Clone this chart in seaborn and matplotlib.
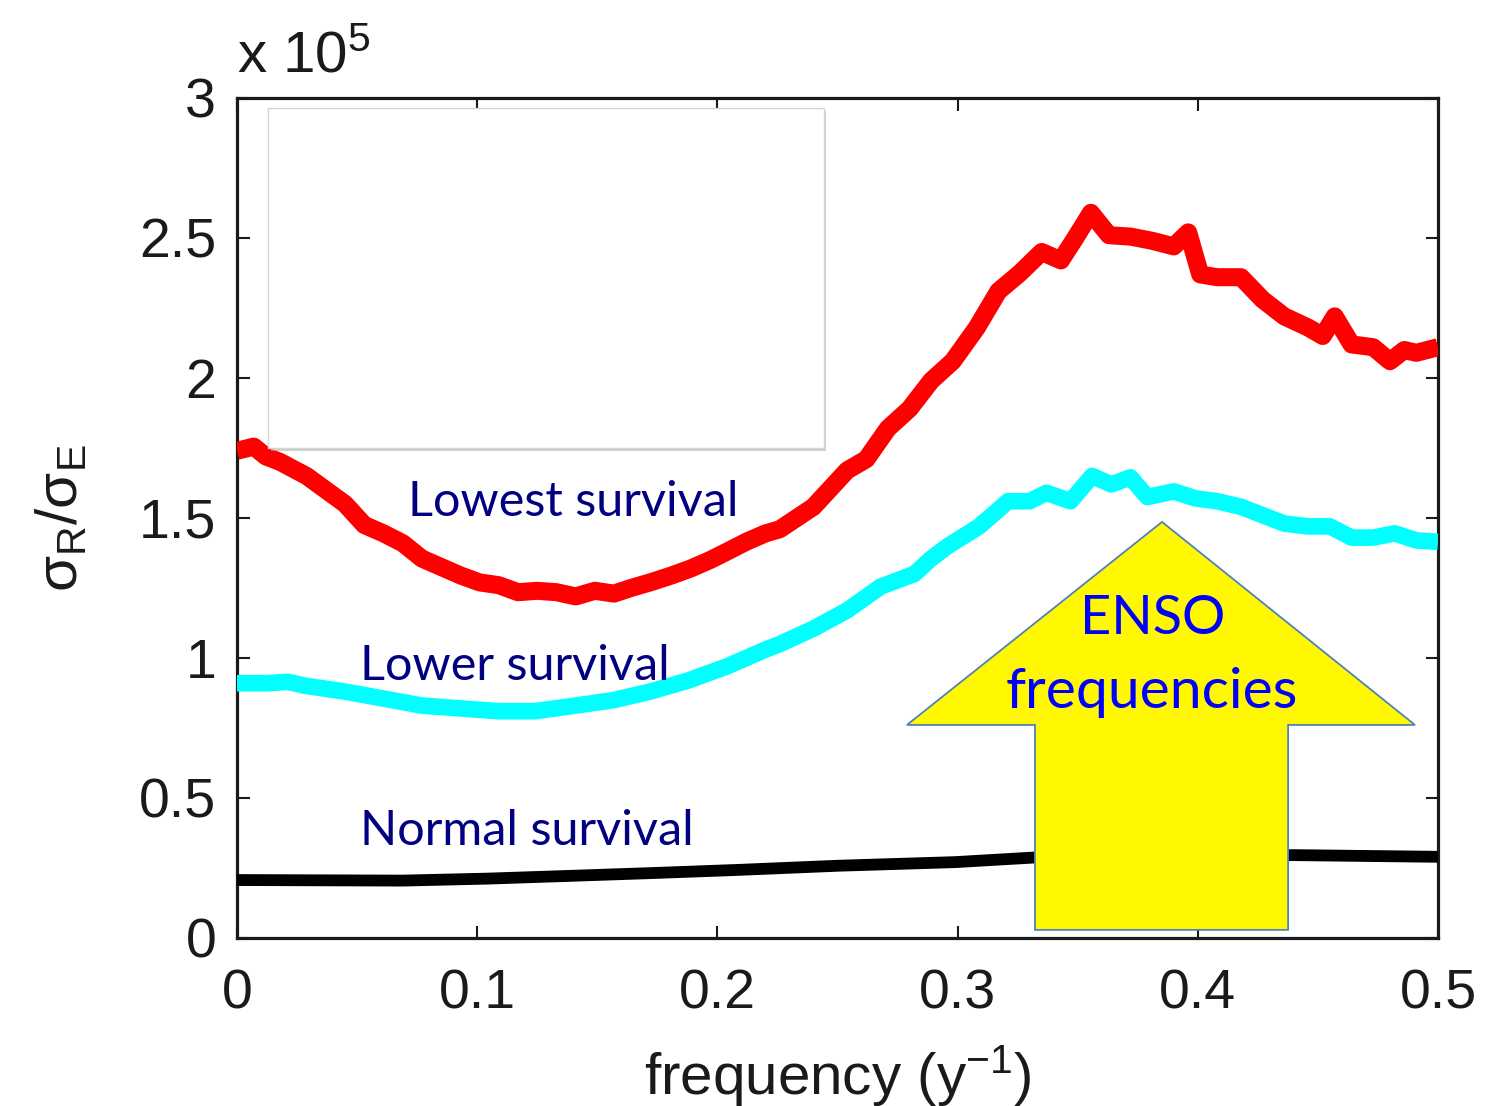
import matplotlib
matplotlib.use("Agg")
import matplotlib.pyplot as plt
from matplotlib.patches import Rectangle, Polygon
import seaborn as sns

# ===============================
# 1. Data (values in units of 10^5)
# ===============================
red_freq = [0.000, 0.007, 0.012, 0.018, 0.029, 0.037, 0.045, 0.053, 0.061, 0.069,
            0.077, 0.085, 0.093, 0.101, 0.109, 0.117, 0.125, 0.133, 0.141, 0.149,
            0.157, 0.164, 0.172, 0.181, 0.189, 0.197, 0.204, 0.212, 0.220, 0.226,
            0.240, 0.254, 0.262, 0.271, 0.280, 0.289, 0.298, 0.308, 0.317, 0.326,
            0.335, 0.343, 0.349, 0.3555, 0.363, 0.372, 0.381, 0.390, 0.396, 0.401,
            0.408, 0.418, 0.427, 0.436, 0.446, 0.452, 0.457, 0.464, 0.473, 0.480,
            0.486, 0.491, 0.500]
red_vals = [1.74, 1.755, 1.72, 1.70, 1.65, 1.60, 1.55, 1.475, 1.445, 1.41,
            1.355, 1.325, 1.295, 1.27, 1.26, 1.235, 1.24, 1.235, 1.22, 1.24,
            1.23, 1.25, 1.27, 1.295, 1.32, 1.35, 1.38, 1.415, 1.445, 1.46,
            1.54, 1.67, 1.71, 1.82, 1.89, 1.99, 2.06, 2.18, 2.31, 2.375,
            2.45, 2.42, 2.50, 2.59, 2.51, 2.505, 2.49, 2.47, 2.52, 2.37,
            2.36, 2.36, 2.28, 2.22, 2.18, 2.15, 2.22, 2.12, 2.11, 2.06,
            2.10, 2.09, 2.11]

cyan_freq = [0.000, 0.013, 0.021, 0.029, 0.045, 0.061, 0.077, 0.093, 0.109, 0.124,
             0.141, 0.157, 0.172, 0.188, 0.204, 0.220, 0.226, 0.240, 0.254, 0.268,
             0.282, 0.289, 0.296, 0.309, 0.321, 0.330, 0.337, 0.347, 0.356, 0.364,
             0.372, 0.379, 0.390, 0.399, 0.408, 0.418, 0.427, 0.436, 0.446, 0.455,
             0.464, 0.473, 0.482, 0.491, 0.500]
cyan_vals = [0.91, 0.91, 0.915, 0.90, 0.88, 0.855, 0.83, 0.82, 0.81, 0.81,
             0.83, 0.85, 0.88, 0.92, 0.97, 1.03, 1.05, 1.105, 1.17, 1.255,
             1.30, 1.355, 1.40, 1.47, 1.56, 1.56, 1.59, 1.56, 1.65, 1.62,
             1.645, 1.575, 1.595, 1.57, 1.56, 1.54, 1.51, 1.48, 1.47, 1.47,
             1.43, 1.43, 1.445, 1.42, 1.415]

black_freq = [0.000, 0.035, 0.069, 0.104, 0.139, 0.173, 0.208, 0.250, 0.299, 0.333,
              0.380, 0.440, 0.470, 0.500]
black_vals = [0.207, 0.206, 0.205, 0.212, 0.222, 0.232, 0.243, 0.258, 0.271, 0.288,
              0.292, 0.296, 0.293, 0.290]

x_ticks = [0, 0.1, 0.2, 0.3, 0.4, 0.5]
x_tick_labels = ["0", "0.1", "0.2", "0.3", "0.4", "0.5"]
y_ticks = [0, 0.5, 1, 1.5, 2, 2.5, 3]
y_tick_labels = ["0", "0.5", "1", "1.5", "2", "2.5", "3"]

# ===============================
# 2. Style
# ===============================
sns.set_style("ticks")
plt.rcParams['font.family'] = ['Liberation Sans', 'DejaVu Sans']
plt.rcParams['mathtext.default'] = 'regular'

fig = plt.figure(figsize=(14.92, 11.06), dpi=100)
ax = fig.add_axes([237 / 1492, 1 - 938 / 1106, 1201 / 1492, 840 / 1106])

# ===============================
# 3. Curves
# ===============================
sns.lineplot(x=red_freq, y=red_vals, color="#FF0000", linewidth=13, ax=ax,
             solid_joinstyle="round", solid_capstyle="butt", zorder=3)
sns.lineplot(x=cyan_freq, y=cyan_vals, color="#00FFFF", linewidth=12, ax=ax,
             solid_joinstyle="round", solid_capstyle="butt", zorder=3)
sns.lineplot(x=black_freq, y=black_vals, color="#000000", linewidth=8.5, ax=ax,
             solid_joinstyle="round", solid_capstyle="butt", zorder=3)

ax.set_xlim(0, 0.5)
ax.set_ylim(0, 3)
ax.set_xticks(x_ticks)
ax.set_xticklabels(x_tick_labels)
ax.set_yticks(y_ticks)
ax.set_yticklabels(y_tick_labels)
ax.tick_params(direction="in", length=9, width=1.5, top=True, right=True,
               labelsize=40, colors="#1a1a1a")
ax.tick_params(axis="x", pad=22)
ax.tick_params(axis="y", pad=15)
for sp in ax.spines.values():
    sp.set_visible(True)
    sp.set_linewidth(2.3)
    sp.set_color("#1a1a1a")

ax.set_xlabel("frequency (y$^{-1}$)", fontsize=42, labelpad=16, color="#1a1a1a")
ax.set_ylabel(r"$\sigma_R/\sigma_E$", fontsize=42, labelpad=36, color="#1a1a1a")
ax.text(0, 1.031, r"x 10$^{5}$", transform=ax.transAxes, fontsize=42,
        va="baseline", ha="left", color="#1a1a1a")

# ===============================
# 4. Overlays (blank box and arrow)
# ===============================
ax.add_patch(Rectangle((0.0141, 1.738), 0.2311, 1.214, facecolor="#b0b0b0",
                       edgecolor="none", alpha=0.6, zorder=4, clip_on=False))
ax.add_patch(Rectangle((0.0129, 1.75), 0.2315, 1.214, facecolor="white",
                       edgecolor="#d4d4d4", linewidth=1, zorder=5, clip_on=False))

arrow_pts = [(0.3851, 1.486), (0.4904, 0.761), (0.4376, 0.761), (0.4376, 0.029),
             (0.3322, 0.029), (0.3322, 0.761), (0.2789, 0.761)]
ax.add_patch(Polygon(arrow_pts, closed=True, facecolor="#FFF800",
                     edgecolor="#4F81BD", linewidth=1.3, zorder=6))

ax.text(0.0712, 1.507, "Lowest survival", fontsize=35, color="#000080",
        family="Lato", va="baseline", ha="left", zorder=7)
ax.text(0.0512, 0.921, "Lower survival", fontsize=35, color="#000080",
        family="Lato", va="baseline", ha="left", zorder=7)
ax.text(0.0512, 0.332, "Normal survival", fontsize=35, color="#000080",
        family="Lato", va="baseline", ha="left", zorder=7)
ax.text(0.381, 1.086, "ENSO", fontsize=39, color="#0000FF",
        family="Lato", va="baseline", ha="center", zorder=7)
ax.text(0.381, 0.821, "frequencies", fontsize=41, color="#0000FF",
        family="Lato", va="baseline", ha="center", zorder=7)

fig.savefig("out.png", dpi=100)
